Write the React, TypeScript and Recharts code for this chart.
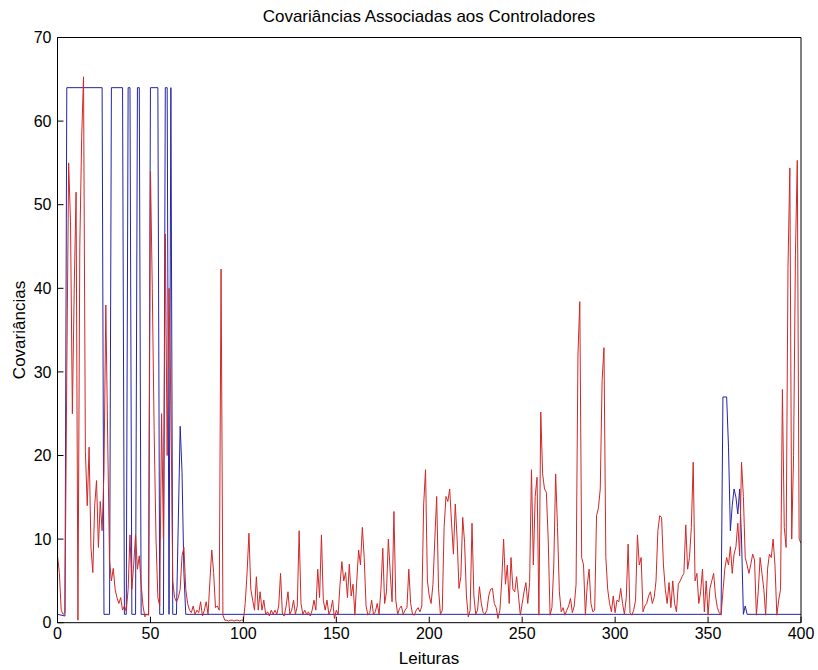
import React from "react"
import { LineChart, Line, XAxis, YAxis } from "recharts"

// leituras (eixo x) e covariâncias
const xTicks = [0, 50, 100, 150, 200, 250, 300, 350, 400]
const yTicks = [0, 10, 20, 30, 40, 50, 60, 70]

// controlador 1 (azul): pontos onde a linha muda
const blueX = [0, 4, 5, 24, 25, 28, 29, 35, 36, 37, 38, 39, 40, 42, 43, 44, 45, 49, 50, 54, 55, 57, 58, 59, 60, 61, 62, 64, 66, 67, 68, 69, 357, 358, 360, 361, 362, 363, 364, 365, 366, 367, 368, 369, 370, 371, 400]
const blueY = [1, 0.8, 64, 64, 1, 1, 64, 64, 1, 1, 64, 64, 1, 1, 64, 64, 1, 1, 64, 64, 1, 1, 64, 64, 1, 64, 1, 1, 23.5, 18, 6, 1, 1, 27, 27, 21, 11, 14, 16, 15, 13, 16, 10, 1, 2, 1, 1]

// controlador 2 (vermelho): um valor por leitura, 0..400
const redY = [
  8, 6, 1.5, 1, 1.2, 30, 55, 48, 25, 40,
  51.5, 0.3, 45, 58, 65.3, 20.5, 14, 21, 9, 6,
  14, 17, 9, 14.5, 11, 18, 38, 22, 7.5, 5,
  6.5, 4, 3, 2.3, 3, 1.5, 2, 1.4, 4, 10.5,
  4, 7, 10.5, 6.4, 8, 4.6, 2, 0.7, 1, 0.9,
  54, 40, 23, 10, 3, 2, 25, 10, 46.5, 20,
  40, 26, 5, 3, 2.5, 3, 4, 8, 9, 4,
  2.3, 1.5, 1.2, 2, 1, 1.5, 1.2, 2.5, 0.8, 1.5,
  2.5, 1, 5, 8.7, 6, 1.8, 2, 1.5, 42.3, 0.9,
  0.3, 0.3, 0.2, 0.3, 0.3, 0.2, 0.3, 0.3, 0.2, 0.3,
  0.3, 2.3, 6, 10.7, 4, 2.7, 1.5, 5.5, 1.5, 3.7,
  1.5, 2.7, 1, 1.3, 0.8, 1.5, 1, 1.5, 1, 2,
  5.9, 1, 0.8, 2, 3.7, 1, 1.5, 2.7, 1, 2,
  11, 2.3, 1, 1.5, 1, 1.3, 0.8, 1.5, 2.7, 1.5,
  6.4, 3, 10.5, 2.7, 1.5, 2.7, 1, 1.5, 2.7, 0.5,
  1.5, 1, 4.6, 7.3, 5, 6, 3, 7, 3.2, 4.6,
  0.9, 5, 8.7, 6.9, 11.4, 7.8, 2, 0.9, 1.2, 2.7,
  1, 1.3, 2.3, 1, 4, 8.9, 2.3, 3.7, 10, 6,
  2.5, 13.3, 2.7, 1, 1.7, 2, 1, 1.5, 1.8, 6.4,
  2.3, 1, 0.9, 1.5, 1.8, 1.3, 2, 14.2, 18.3, 5,
  3.2, 2.3, 4.6, 10, 15.1, 4.1, 1, 1.5, 11.4, 15.1,
  14.5, 16, 11.9, 8.2, 14.2, 10, 4.1, 5.5, 12.6, 9.6,
  3.2, 0.7, 1.5, 11.9, 3.2, 1, 1.5, 4.3, 2.3, 1.2,
  1, 1.5, 3.2, 4, 4.1, 2.3, 1.8, 0.5, 1.5, 5,
  10, 4.6, 6.9, 2.3, 7.8, 4, 3.7, 5.5, 3.2, 0.9,
  2.3, 3.7, 4.8, 2.3, 4.8, 18.3, 6.9, 15.1, 17.4, 0.9,
  25.2, 17.8, 16, 15.6, 10, 0.9, 1.8, 6.9, 17.8, 11.4,
  3.7, 1.3, 1.8, 0.9, 1.5, 2, 2.9, 1.2, 2, 4.6,
  32, 38.4, 7.8, 6.9, 0.9, 4.5, 6.4, 2.3, 1.3, 1.5,
  12.8, 13.7, 16, 29, 32.9, 7.8, 4, 2.3, 1.3, 3.2,
  1.2, 2.7, 2.5, 4.1, 2.3, 1, 3, 9.4, 1.2, 0.9,
  1.5, 2.7, 10.5, 6.9, 7.8, 1.3, 2, 2.3, 3.2, 3.7,
  2.3, 3, 5, 11, 12.8, 12.6, 6.9, 4, 2.3, 4.8,
  1.8, 5, 2.3, 1.3, 4.6, 5, 5.5, 5.9, 11.7, 6.4,
  7.8, 11.4, 19.2, 5, 5.9, 2.3, 3.7, 6.4, 1.3, 5,
  0.9, 4.1, 5, 5.9, 3.2, 1.8, 1.2, 0.9, 3.7, 6.4,
  7.8, 6.9, 9.1, 5.9, 8.2, 9.1, 11.9, 8, 19.2, 15.1,
  7.8, 6.9, 5.9, 7, 8.2, 7.5, 0.9, 3.7, 7.8, 5.9,
  4, 0.9, 6.4, 8.2, 7.8, 10, 6.9, 0.9, 2.7, 4,
  27.9, 11.4, 9, 42.5, 54.4, 10, 20, 44, 55.3, 10,
  9.5,
]

const blueData = blueX.map((x, i) => ({ x, y: blueY[i] }))
const redData = redY.map((y, i) => ({ x: i, y }))

const FONT = "'Liberation Sans', Arial, sans-serif"
const TICK = 6

const LeftTick = ({ x, y, payload }: any) => (
  <g>
    <line x1={x + 6} x2={x + 6 + TICK} y1={y} y2={y} stroke="#000" />
    <text x={x} y={y} dy="0.355em" textAnchor="end" fontSize={16} fontFamily={FONT} fill="#000">
      {payload.value}
    </text>
  </g>
)

const BottomTick = ({ x, y, payload }: any) => (
  <g>
    <line x1={x} x2={x} y1={y - 5} y2={y - 5 - TICK} stroke="#000" />
    <text x={x} y={y} dy="0.71em" textAnchor="middle" fontSize={16} fontFamily={FONT} fill="#000">
      {payload.value}
    </text>
  </g>
)

const TopTick = ({ x, y }: any) => <line x1={x} x2={x} y1={y} y2={y + TICK} stroke="#000" />
const RightTick = ({ x, y }: any) => <line x1={x} x2={x - TICK} y1={y} y2={y} stroke="#000" />

export default function App() {
  return (
    <div style={{ position: "absolute", left: 0, top: 0, width: 818, height: 670, background: "#fff", fontFamily: FONT }}>
      <div style={{ position: "absolute", left: 0, width: 858, top: 7, textAlign: "center", fontSize: 17, color: "#000" }}>
        Covariâncias Associadas aos Controladores
      </div>
      <div style={{ position: "absolute", left: 0, width: 858, top: 649, textAlign: "center", fontSize: 17, color: "#000" }}>
        Leituras
      </div>
      <div
        style={{
          position: "absolute",
          left: 20,
          top: 330,
          fontSize: 17,
          color: "#000",
          transform: "translate(-50%, -50%) rotate(-90deg)",
          whiteSpace: "nowrap",
        }}
      >
        Covariâncias
      </div>
      <LineChart width={818} height={670} margin={{ top: 36.5, right: 16, bottom: 17.3, left: 17.5 }}>
        <XAxis
          dataKey="x"
          type="number"
          domain={[0, 400]}
          ticks={xTicks}
          height={30}
          tickSize={0}
          tickMargin={5}
          tick={<BottomTick />}
          axisLine={{ stroke: "#000" }}
          allowDataOverflow
        />
        <XAxis
          xAxisId="top"
          orientation="top"
          dataKey="x"
          type="number"
          domain={[0, 400]}
          ticks={xTicks}
          height={1}
          tickSize={0}
          tickMargin={0}
          tick={<TopTick />}
          axisLine={{ stroke: "#000" }}
        />
        <YAxis
          type="number"
          domain={[0, 70]}
          ticks={yTicks}
          width={40}
          tickSize={0}
          tickMargin={6}
          tick={<LeftTick />}
          axisLine={{ stroke: "#000" }}
          allowDataOverflow
        />
        <YAxis
          yAxisId="right"
          orientation="right"
          type="number"
          domain={[0, 70]}
          ticks={yTicks}
          width={1}
          tickSize={0}
          tickMargin={0}
          tick={<RightTick />}
          axisLine={{ stroke: "#000" }}
        />
        <Line data={blueData} dataKey="y" type="linear" stroke="#2424a8" strokeWidth={1} dot={false} isAnimationActive={false} />
        <Line data={redData} dataKey="y" type="linear" stroke="#d02828" strokeWidth={1} dot={false} isAnimationActive={false} />
      </LineChart>
    </div>
  )
}
